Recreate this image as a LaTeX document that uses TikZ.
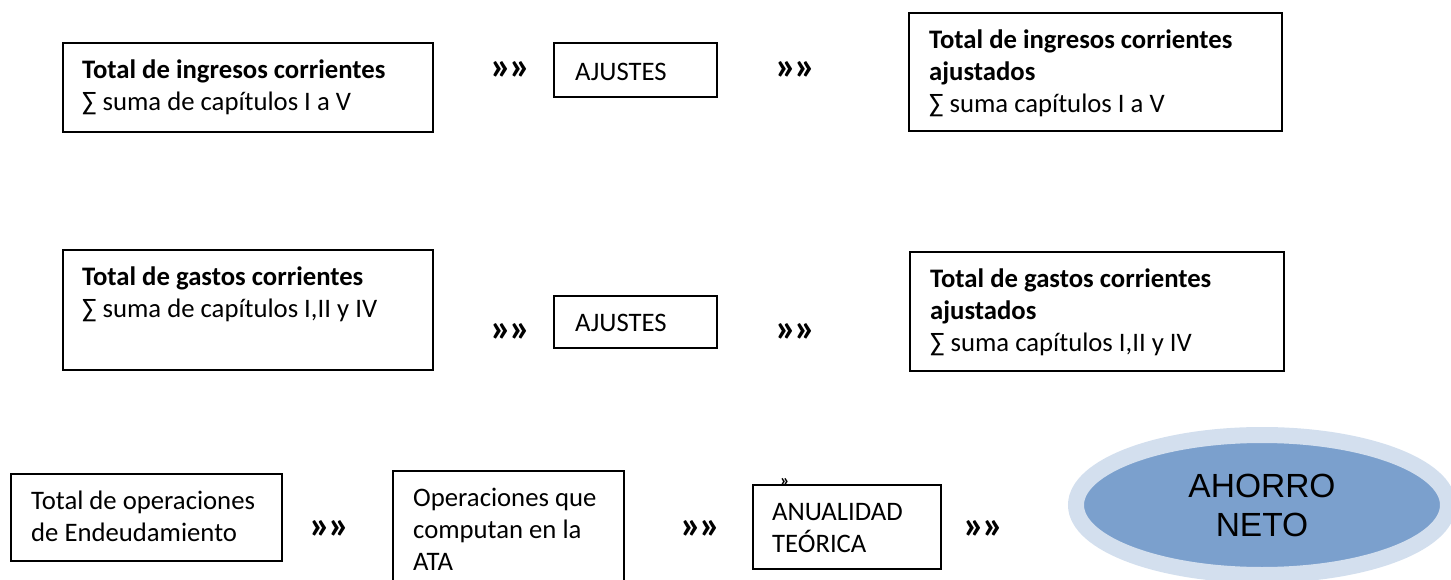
\documentclass[tikz,border=0pt]{standalone}
\usepackage{fontspec}
\setmainfont{Carlito}
\newfontfamily\arialfont{Liberation Sans}
\usetikzlibrary{shapes.geometric}

\definecolor{azulint}{RGB}{123,160,205}
\definecolor{azulext}{RGB}{211,223,238}

\newcommand{\dobles}{»\kern-3pt»}

\tikzset{
  caja/.style={draw, line width=1.8pt, anchor=north west, inner sep=0pt},
  texto/.style={anchor=north west, align=left, inner sep=0pt, font=\fontsize{26.7}{32}\selectfont},
  flechas/.style={inner sep=0pt, font=\fontsize{40}{40}\selectfont\bfseries},
}

\begin{document}
\begin{tikzpicture}[x=1pt,y=-1pt]
	\useasboundingbox (0,0) rectangle (1451,580);

	% ingresos
	\node[caja, minimum width=370pt, minimum height=89pt] (ingresos) at (62,42) {};
	\node[texto] (ingresostxt) at (82,60) {\textbf{Total de ingresos corrientes}\\∑ suma de capítulos I a V};
	\node[flechas] (f1) at (511,71) {\dobles};
	\node[caja, minimum width=163pt, minimum height=54pt] (ajustes1) at (553,42) {};
	\node[texto, anchor=west] (ajustes1txt) at (575,72) {AJUSTES};
	\node[flechas] (f2) at (796,71) {\dobles};
	\node[caja, minimum width=373pt, minimum height=118pt] (ingresosaj) at (908,12) {};
	\node[texto] (ingresosajtxt) at (929,30) {\textbf{Total de ingresos corrientes}\\\textbf{ajustados}\\∑ suma capítulos I a V};

	% gastos
	\node[caja, minimum width=370pt, minimum height=120pt] (gastos) at (62,249) {};
	\node[texto] (gastostxt) at (82,267) {\textbf{Total de gastos corrientes}\\∑ suma de capítulos I,II y IV};
	\node[flechas] (f3) at (511,333) {\dobles};
	\node[caja, minimum width=163pt, minimum height=52pt] (ajustes2) at (553,295) {};
	\node[texto, anchor=west] (ajustes2txt) at (575,323) {AJUSTES};
	\node[flechas] (f4) at (796,333) {\dobles};
	\node[caja, minimum width=374pt, minimum height=119pt] (gastosaj) at (909,251) {};
	\node[texto] (gastosajtxt) at (930,269) {\textbf{Total de gastos corrientes}\\\textbf{ajustados}\\∑ suma capítulos I,II y IV};

	% endeudamiento
	\node[caja, minimum width=271pt, minimum height=87pt] (endeuda) at (10,473) {};
	\node[texto] (endeudatxt) at (31,491) {Total de operaciones\\de Endeudamiento};
	\node[flechas] (f5) at (330,530) {\dobles};
	\node[caja, minimum width=231pt, minimum height=122pt] (ata) at (392,470) {};
	\node[texto] (atatxt) at (413,488) {Operaciones que\\computan en la\\ATA};
	\node[flechas] (f6) at (701,530) {\dobles};
	\node[inner sep=0pt, font=\fontsize{18}{18}\selectfont\bfseries] (resto) at (785,482) {»};
	\node[caja, fill=white, minimum width=188pt, minimum height=84pt] (anualidad) at (752,484) {};
	\node[texto] (anualidadtxt) at (772,503) {ANUALIDAD\\TEÓRICA};
	\node[flechas] (f7) at (984,530) {\dobles};

	\node[ellipse, fill=azulint, draw=azulext, line width=16pt, inner sep=0pt,
		minimum width=372pt, minimum height=140pt, align=center,
		font=\arialfont\fontsize{33.5}{39}\selectfont] (ahorro) at (1262,505) {AHORRO\\NETO};
\end{tikzpicture}
\end{document}
